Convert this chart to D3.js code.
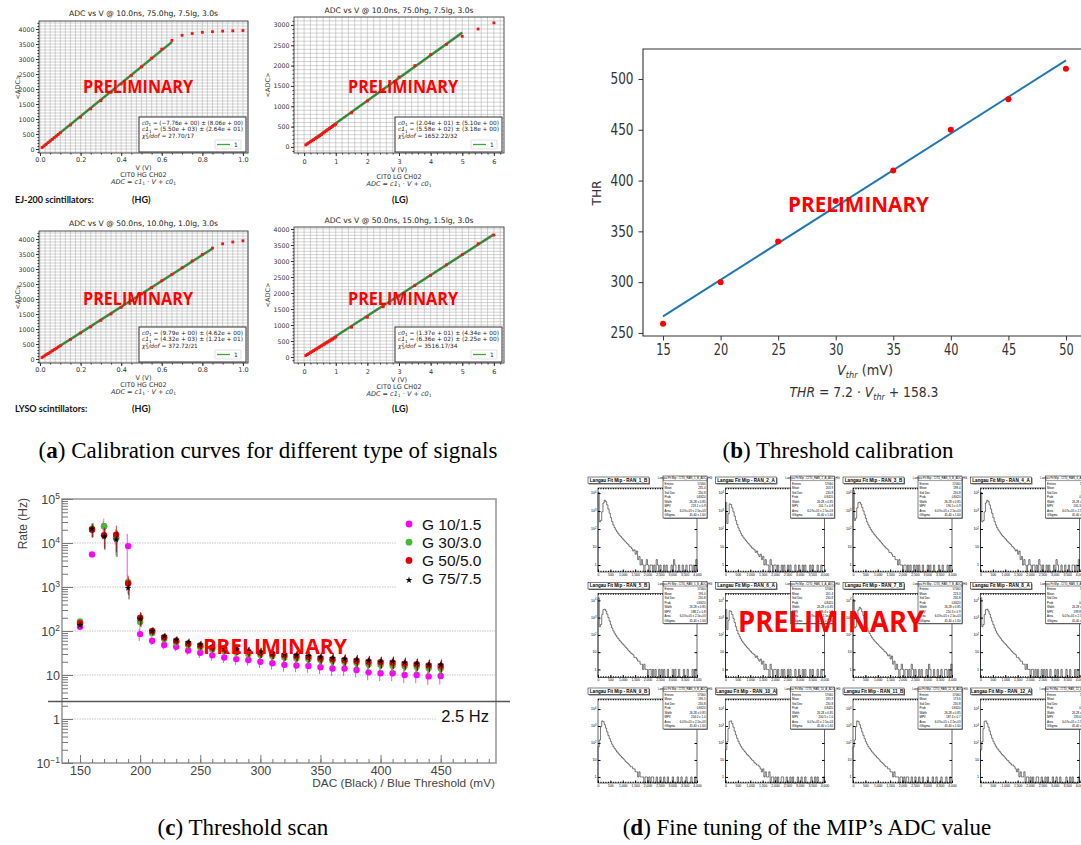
<!DOCTYPE html>
<html>
<head>
<meta charset="utf-8">
<script src="https://cdn.jsdelivr.net/npm/d3@7"></script>
<style>
  body { margin: 0; background: #fff; }
  svg { display: block; }
</style>
</head>
<body>
<div class="container"></div>
<script>
const WIDTH = 1081;
const HEIGHT = 845;

// (a) calibration curves
const hgV = [0.01, 0.02, 0.03, 0.04, 0.05, 0.06, 0.07, 0.08, 0.09, 0.10,
  0.15, 0.20, 0.25, 0.30, 0.35, 0.40, 0.45, 0.50, 0.55, 0.60, 0.65,
  0.70, 0.75, 0.80, 0.85, 0.90, 0.95, 1.00];
const ejHgAdc = [50, 100, 155, 210, 265, 320, 375, 430, 485, 540,
  800, 1060, 1340, 1610, 1890, 2170, 2450, 2740, 3030, 3330, 3620,
  3790, 3850, 3890, 3910, 3930, 3940, 3950];
const lysoHgAdc = [50, 95, 140, 180, 225, 270, 310, 355, 400, 440,
  650, 870, 1070, 1290, 1500, 1720, 1950, 2170, 2380, 2610, 2820,
  3040, 3270, 3490, 3700, 3840, 3900, 3940];
const lgV = [0.05, 0.10, 0.15, 0.20, 0.25, 0.30, 0.35, 0.40, 0.45, 0.50,
  0.55, 0.60, 0.65, 0.70, 0.75, 0.80, 0.85, 0.90, 0.95, 1.00,
  1.5, 2.0, 2.5, 3.0, 3.5, 4.0, 4.5, 5.0, 5.5, 6.0];
const ejLgAdc = [50, 75, 100, 125, 150, 175, 200, 225, 250, 275,
  305, 335, 365, 390, 420, 450, 475, 505, 530, 555,
  840, 1130, 1400, 1720, 2000, 2270, 2520, 2720, 2900, 3050];
const lysoLgAdc = [45, 75, 105, 135, 165, 195, 225, 255, 285, 315,
  345, 375, 405, 435, 465, 495, 525, 555, 585, 620,
  930, 1240, 1570, 1900, 2230, 2550, 2880, 3200, 3540, 3810];

const adcTitles = ['ADC vs V @ 10.0ns, 75.0hg, 7.5lg, 3.0s', 'ADC vs V @ 10.0ns, 75.0hg, 7.5lg, 3.0s',
  'ADC vs V @ 50.0ns, 10.0hg, 1.0lg, 3.0s', 'ADC vs V @ 50.0ns, 15.0hg, 1.5lg, 3.0s'];
const adcChannels = ['CIT0 HG CH02', 'CIT0 LG CH02', 'CIT0 HG CH02', 'CIT0 LG CH02'];
const fitC0 = [-7.76, 20.4, 9.79, 13.7];
const fitC1 = [5500, 558, 4320, 636];
const fitFrom = [0.01, 0.05, 0.01, 0.05];
const fitTo = [0.65, 5.0, 0.85, 6.0];
const fitC0Text = ['(\u22127.76e + 00) \u00b1 (8.06e + 00)', '(2.04e + 01) \u00b1 (5.10e + 00)',
  '(9.79e + 00) \u00b1 (4.62e + 00)', '(1.37e + 01) \u00b1 (4.34e + 00)'];
const fitC1Text = ['(5.50e + 03) \u00b1 (2.64e + 01)', '(5.58e + 02) \u00b1 (3.18e + 00)',
  '(4.32e + 03) \u00b1 (1.21e + 01)', '(6.36e + 02) \u00b1 (2.25e + 00)'];
const fitChiText = ['27.70/17', '1652.22/32', '372.72/21', '3516.17/34'];

// (b) threshold calibration
const thrV = [15, 20, 25, 30, 35, 40, 45, 50];
const thrVal = [259, 300, 340, 380, 410, 450, 480, 510];
const thrSlope = 7.2;
const thrOffset = 158.3;
const thrXTicks = [15, 20, 25, 30, 35, 40, 45, 50];
const thrYTicks = [250, 300, 350, 400, 450, 500];

// (c) threshold scan
const dacThr = [150, 160, 170, 180, 190, 200, 210, 220, 230, 240, 250, 260, 270, 280, 290, 300,
  310, 320, 330, 340, 350, 360, 370, 380, 390, 400, 410, 420, 430, 440, 450];
const rateG10 = [125, 5500, 24000, 13000, 8500, 85, 60, 48, 44, 36, 32, 28, 25, 23, 22, 20,
  18.5, 17, 16.5, 16, 15, 14, 14, 13, 11.5, 11, 11, 10, 10, 9.3, 9.5];
const rateG30 = [165, 21000, 24000, 13000, 1300, 160, 90, 66, 55, 48, 43, 38, 35, 33, 30, 29,
  27, 25, 24, 23, 22, 21, 20, 19, 17.5, 17, 16.5, 16, 15.5, 14.5, 14];
const rateG50 = [150, 20000, 15000, 15500, 1200, 200, 100, 72, 60, 52, 47, 42, 39, 37, 34, 32,
  30, 28, 27, 26, 24, 23, 22, 21, 20, 19.5, 19, 18, 17.5, 16.5, 16];
const rateG75 = [135, 21000, 14000, 12000, 950, 190, 100, 75, 63, 55, 49, 44, 40, 38, 35, 33,
  31, 29, 28, 27, 25, 24, 23, 22, 21, 20, 20, 19, 18, 17, 17];
const relErr = [0.15, 0.35, 0.5, 0.6, 0.45, 0.35, 0.2, 0.2, 0.2, 0.22, 0.22, 0.24, 0.24, 0.25, 0.25, 0.26,
  0.26, 0.27, 0.27, 0.28, 0.28, 0.29, 0.29, 0.3, 0.3, 0.3, 0.31, 0.31, 0.32, 0.32, 0.33];
const relErrG10 = [0.15, 0.1, 0.3, 0.3, 0.9, 0.3, 0.2, 0.2, 0.22, 0.22, 0.24, 0.25, 0.25, 0.26, 0.26, 0.28,
  0.28, 0.3, 0.3, 0.3, 0.3, 0.32, 0.32, 0.32, 0.34, 0.34, 0.34, 0.35, 0.35, 0.36, 0.36];
const rateLegend = ['G 10/1.5', 'G 30/3.0', 'G 50/5.0', 'G 75/7.5'];
const rateTickVals = [0.1, 1, 10, 100, 1000, 10000, 100000];
const rateTickExp = ['\u22121', '', '', '2', '3', '4', '5'];
const rateTickBase = ['10', '1', '10', '10', '10', '10', '10'];
const dacTicks = [150, 200, 250, 300, 350, 400, 450];
const rateLimit = 2.5;

// (d) MIP fine tuning histograms (50 ADC bins from 0 to 4000)
const histA = [11000, 250, 300, 900, 2800, 4000, 3300, 2200, 1300, 750,
  430, 260, 170, 120, 90, 70, 55, 45, 38, 32,
  27, 22, 19, 16, 14, 11, 10, 8, 6, 7,
  4, 6, 2, 3, 1, 2, 1, 0, 1, 2,
  1, 0, 1, 1, 0, 1, 0, 2, 1, 0,
  1, 0, 0, 1, 0, 1, 0, 0, 0, 1,
  0, 2, 1, 0, 0, 1, 0, 0, 1, 0,
  0, 1, 0, 0, 1, 1, 0, 1, 0, 2];
const histB = [3000, 200, 700, 2500, 2300, 1500, 900, 520, 300, 180,
  115, 80, 58, 44, 35, 28, 23, 19, 16, 13,
  11, 9, 8, 7, 5, 6, 4, 3, 4, 2,
  3, 1, 2, 1, 1, 0, 2, 1, 0, 1,
  1, 0, 1, 0, 0, 1, 0, 1, 0, 0,
  1, 0, 1, 0, 0, 0, 1, 0, 0, 1,
  0, 0, 1, 0, 1, 0, 0, 0, 1, 0,
  1, 0, 0, 0, 1, 0, 0, 1, 0, 0];
const histC = [14000, 300, 400, 1500, 2900, 3100, 2400, 1600, 1000, 620,
  390, 250, 170, 125, 95, 75, 60, 48, 40, 33,
  28, 23, 19, 16, 13, 11, 9, 8, 7, 5,
  5, 4, 3, 3, 2, 2, 1, 2, 1, 1,
  0, 1, 1, 0, 1, 0, 1, 0, 0, 1,
  0, 1, 0, 1, 0, 0, 1, 0, 0, 0,
  1, 0, 1, 0, 0, 1, 0, 0, 0, 1,
  0, 0, 1, 0, 0, 0, 1, 0, 1, 0];
const histD = [60, 150, 900, 2000, 1800, 1200, 750, 450, 280, 180,
  120, 85, 62, 48, 38, 30, 25, 20, 17, 14,
  12, 10, 8, 7, 6, 5, 4, 4, 3, 3,
  2, 2, 1, 2, 1, 1, 1, 0, 1, 1,
  0, 1, 0, 1, 1, 0, 0, 1, 0, 0,
  1, 0, 0, 1, 0, 0, 1, 0, 0, 0,
  1, 0, 0, 0, 1, 0, 0, 1, 0, 0,
  0, 1, 0, 0, 0, 1, 0, 0, 1, 0];
const histE = [40, 120, 700, 1900, 2000, 1400, 850, 500, 300, 190,
  125, 88, 64, 50, 40, 32, 26, 21, 18, 15,
  12, 10, 9, 7, 6, 5, 5, 4, 3, 2,
  3, 1, 2, 1, 1, 2, 0, 1, 1, 0,
  1, 0, 1, 0, 0, 1, 1, 0, 0, 1,
  0, 0, 1, 0, 1, 0, 0, 0, 1, 0,
  0, 1, 0, 0, 1, 0, 0, 0, 0, 1,
  0, 0, 1, 0, 1, 0, 0, 0, 0, 1];
const histOfPanel = [histA, histB, histC, histA, histC, histB, histA, histC, histD, histE, histD, histE];
const mipNames = ['RAN_1_B', 'RAN_2_A', 'RAN_3_B', 'RAN_4_A', 'RAN_5_B', 'RAN_6_A',
  'RAN_7_B', 'RAN_8_A', 'RAN_9_B', 'RAN_10_A', 'RAN_11_B', 'RAN_12_A'];
const statsNames = ['Entries', 'Mean', 'Std Dev', 'Prob', 'Width', 'MPV', 'Area', 'GSigma'];
const statsMean = ['235.4', '203.9', '198.4', '211.6', '196.0', '201.4', '223.3', '204.1', '196.5', '195.9', '173.6', '188.2'];
const statsMpv = ['219.1 \u00b1 0.9', '201.7 \u00b1 0.8', '190.5 \u00b1 0.9', '205.3 \u00b1 0.9', '188.2 \u00b1 0.8', '196.4 \u00b1 0.9',
  '210.3 \u00b1 0.9', '199.8 \u00b1 0.8', '204.0 \u00b1 1.0', '200.5 \u00b1 1.0', '187.4 \u00b1 0.7', '193.6 \u00b1 0.9'];
const mipXTicks = [0, 500, 1000, 1500, 2000, 2500, 3000, 3500, 4000];

var translate = function (x, y) {
  return 'translate(' + x + ',' + y + ')';
};

var svg = d3.select('.container').append('svg')
  .attr('width', WIDTH)
  .attr('height', HEIGHT);

svg.append('rect').attr('width', WIDTH).attr('height', HEIGHT).attr('fill', '#fff');

var prelim = function (x, y, size, len) {
  svg.append('text')
    .attr('x', x).attr('y', y)
    .attr('font-family', 'Open Sans, sans-serif')
    .attr('font-weight', 700)
    .attr('font-size', size)
    .attr('fill', '#ff0000')
    .attr('textLength', len)
    .attr('lengthAdjust', 'spacingAndGlyphs')
    .text('PRELIMINARY');
};

var styleAxis = function (g, size, color, family) {
  g.select('.domain').remove();
  g.selectAll('line').attr('stroke', color);
  g.selectAll('text').attr('fill', color).attr('font-size', size).attr('font-family', family);
  g.attr('font-size', null).attr('font-family', null);
};

// ---------- (a) ----------
var adcPlots = [
  {x0: 39, y0: 21, x1: 248, y1: 153, xd: [-0.005, 1.025], yd: [-133, 4267], v: hgV, adc: ejHgAdc, lg: false,
    yMax: 4000, titleY: 16, pad: 1.5, labY: 170},
  {x0: 294, y0: 17, x1: 504, y1: 153, xd: [-0.32, 6.32], yd: [-150, 3195], v: lgV, adc: ejLgAdc, lg: true,
    yMax: 3000, titleY: 13, pad: 3, labY: 172},
  {x0: 39, y0: 231, x1: 248, y1: 363, xd: [-0.005, 1.025], yd: [-133, 4267], v: hgV, adc: lysoHgAdc, lg: false,
    yMax: 4000, titleY: 226, pad: 1.5, labY: 380},
  {x0: 294, y0: 227, x1: 504, y1: 363, xd: [-0.32, 6.32], yd: [-188, 4062], v: lgV, adc: lysoLgAdc, lg: true,
    yMax: 4000, titleY: 223, pad: 3, labY: 382}
];

var FONT_A = 'DejaVu Sans, sans-serif';

var drawAdcPlot = function (p, i) {
  var g = svg.append('g');
  var x = d3.scaleLinear().domain(p.xd).range([p.x0, p.x1]);
  var y = d3.scaleLinear().domain(p.yd).range([p.y1, p.y0]);

  var xMinor = p.lg ? d3.range(-0.2, 6.31, 0.2) : d3.range(0, 1.0251, 0.025);
  var yMinor = d3.range(-100, p.yd[1], 100);

  g.append('g').selectAll('line').data(xMinor).enter().append('line')
    .attr('x1', function (d) { return x(d); }).attr('x2', function (d) { return x(d); })
    .attr('y1', p.y0).attr('y2', p.y1)
    .attr('stroke', '#b4b4b4').attr('stroke-width', 0.6);
  g.append('g').selectAll('line').data(yMinor).enter().append('line')
    .attr('x1', p.x0).attr('x2', p.x1)
    .attr('y1', function (d) { return y(d); }).attr('y2', function (d) { return y(d); })
    .attr('stroke', '#b4b4b4').attr('stroke-width', 0.6);

  g.append('rect')
    .attr('x', p.x0).attr('y', p.y0)
    .attr('width', p.x1 - p.x0).attr('height', p.y1 - p.y0)
    .attr('fill', 'none').attr('stroke', '#3a3a3a').attr('stroke-width', 0.9);

  var xTicks = p.lg ? [0, 1, 2, 3, 4, 5, 6] : [0, 0.2, 0.4, 0.6, 0.8, 1.0];
  var xAxis = d3.axisBottom(x).tickValues(xTicks)
    .tickFormat(p.lg ? d3.format('d') : d3.format('.1f'))
    .tickSize(3).tickPadding(p.pad);
  styleAxis(g.append('g').attr('transform', translate(0, p.y1)).call(xAxis), 6.5, '#333', FONT_A);
  var xMinorAxis = d3.axisBottom(x).tickValues(p.lg ? d3.range(-0.2, 6.3, 0.2) : d3.range(0, 1.01, 0.05))
    .tickFormat('').tickSize(1.5);
  styleAxis(g.append('g').attr('transform', translate(0, p.y1)).call(xMinorAxis), 6.5, '#333', FONT_A);

  var yAxis = d3.axisLeft(y).tickValues(d3.range(0, p.yMax + 1, 500))
    .tickFormat(d3.format('d')).tickSize(3).tickPadding(1.5);
  styleAxis(g.append('g').attr('transform', translate(p.x0, 0)).call(yAxis), 6.3, '#333', FONT_A);
  var yMinorAxis = d3.axisLeft(y).tickValues(d3.range(-100, p.yd[1], 100)).tickFormat('').tickSize(1.5);
  styleAxis(g.append('g').attr('transform', translate(p.x0, 0)).call(yMinorAxis), 6.5, '#333', FONT_A);

  // fit line
  var line = d3.line()
    .x(function (d) { return x(d); })
    .y(function (d) { return y(fitC1[i] * d + fitC0[i]); });
  g.append('path').attr('d', line([fitFrom[i], fitTo[i]]))
    .attr('stroke', '#6d8f6d').attr('stroke-width', 2.6).attr('fill', 'none');
  g.append('path').attr('d', line([fitFrom[i], fitTo[i]]))
    .attr('stroke', '#2a8c2a').attr('stroke-width', 1.5).attr('fill', 'none');

  // measured points
  g.append('g').selectAll('rect').data(p.v).enter().append('rect')
    .attr('x', function (d) { return x(d) - 1.4; })
    .attr('y', function (d, k) { return y(p.adc[k]) - 1.4; })
    .attr('width', 2.8).attr('height', 2.8)
    .attr('fill', '#ff1010');

  // title
  svg.append('text').attr('x', (p.x0 + p.x1) / 2).attr('y', p.titleY)
    .attr('text-anchor', 'middle').attr('font-family', FONT_A).attr('font-size', 7.6)
    .attr('fill', '#222').text(adcTitles[i]);

  var ax = p.x0 - (p.lg ? 24 : 19);
  var ay = (p.y0 + p.y1) / 2;
  svg.append('text').attr('x', ax).attr('y', ay)
    .attr('transform', 'rotate(-90,' + ax + ',' + ay + ')')
    .attr('text-anchor', 'middle').attr('font-family', FONT_A).attr('font-size', 6.5)
    .attr('fill', '#333').text('<ADC>');

  // fit box
  var bx1 = p.x1 - 2, by1 = p.y1 - 1, bx0 = bx1 - 107, by0 = by1 - 35;
  var box = svg.append('g');
  box.append('rect').attr('x', bx0).attr('y', by0).attr('width', bx1 - bx0).attr('height', by1 - by0)
    .attr('fill', '#fff').attr('stroke', '#333').attr('stroke-width', 1);
  var rows = [['c0', fitC0Text[i]], ['c1', fitC1Text[i]]];
  rows.forEach(function (r, k) {
    var t = box.append('text').attr('x', bx0 + 3).attr('y', by0 + 8 + k * 6.4)
      .attr('font-family', FONT_A).attr('font-size', 5.8).attr('fill', '#222')
      .attr('textLength', 101).attr('lengthAdjust', 'spacingAndGlyphs');
    t.append('tspan').attr('font-style', 'italic').text(r[0]);
    t.append('tspan').attr('font-size', 4.2).attr('dy', 1.2).text('1');
    t.append('tspan').attr('dy', -1.2).text(' = ' + r[1]);
  });
  var chi = box.append('text').attr('x', bx0 + 3).attr('y', by0 + 20.8)
    .attr('font-family', FONT_A).attr('font-size', 5.8).attr('fill', '#222');
  chi.append('tspan').attr('font-style', 'italic').text('\u03c7');
  chi.append('tspan').attr('font-size', 4.2).attr('dy', -2).text('2');
  chi.append('tspan').attr('font-size', 4.2).attr('dx', -2.4).attr('dy', 3.2).text('1');
  chi.append('tspan').attr('dy', -1.2).attr('font-style', 'italic').text('/dof');
  chi.append('tspan').text(' = ' + fitChiText[i]);
  box.append('rect').attr('x', bx1 - 31).attr('y', by1 - 12).attr('width', 26).attr('height', 9)
    .attr('fill', '#fff').attr('stroke', '#ccc').attr('stroke-width', 0.6).attr('rx', 1);
  box.append('line').attr('x1', bx1 - 29).attr('x2', bx1 - 16).attr('y1', by1 - 7.5).attr('y2', by1 - 7.5)
    .attr('stroke', '#3aa83a').attr('stroke-width', 1.3);
  box.append('text').attr('x', bx1 - 12).attr('y', by1 - 5.2)
    .attr('font-family', FONT_A).attr('font-size', 6).attr('fill', '#222').text('1');

  // axis labels
  var cx = (p.x0 + p.x1) / 2;
  svg.append('text').attr('x', cx).attr('y', p.labY).attr('text-anchor', 'middle')
    .attr('font-family', FONT_A).attr('font-size', 6.5).attr('fill', '#333').text('V (V)');
  svg.append('text').attr('x', cx).attr('y', p.labY + 7).attr('text-anchor', 'middle')
    .attr('font-family', FONT_A).attr('font-size', 6.5).attr('fill', '#333').text(adcChannels[i]);
  var f = svg.append('text').attr('x', cx).attr('y', p.labY + 14).attr('text-anchor', 'middle')
    .attr('font-family', FONT_A).attr('font-size', 6.5).attr('fill', '#333');
  f.append('tspan').attr('font-style', 'italic').text('ADC');
  f.append('tspan').text(' = ');
  f.append('tspan').attr('font-style', 'italic').text('c1');
  f.append('tspan').attr('font-size', 4.5).attr('dy', 1.2).text('1');
  f.append('tspan').attr('dy', -1.2).text(' \u00b7 ');
  f.append('tspan').attr('font-style', 'italic').text('V');
  f.append('tspan').text(' + ');
  f.append('tspan').attr('font-style', 'italic').text('c0');
  f.append('tspan').attr('font-size', 4.5).attr('dy', 1.2).text('1');
};

adcPlots.forEach(drawAdcPlot);

var boldLabel = function (x, y, txt, anchor) {
  svg.append('text').attr('x', x).attr('y', y).attr('text-anchor', anchor || 'start')
    .attr('font-family', 'Lato, sans-serif').attr('font-weight', 700).attr('font-size', 9)
    .attr('fill', '#111').text(txt);
};
boldLabel(15, 203, 'EJ-200 scintillators:');
boldLabel(132, 203, '(HG)');
boldLabel(400, 203, '(LG)', 'middle');
boldLabel(15, 412, 'LYSO scintillators:');
boldLabel(132, 412, '(HG)');
boldLabel(400, 412, '(LG)', 'middle');

prelim(83, 93, 18, 110);
prelim(348, 93, 18, 110);
prelim(83, 305, 18, 110);
prelim(348, 305, 18, 110);

// ---------- (b) ----------
(function () {
  var x0 = 643, x1 = 1083, y0 = 49, y1 = 336;
  var x = d3.scaleLinear().domain([13.26, 51.48]).range([x0, x1]);
  var y = d3.scaleLinear().domain([247, 529.5]).range([y1, y0]);
  var g = svg.append('g');

  var line = d3.line()
    .x(function (d) { return x(d); })
    .y(function (d) { return y(thrSlope * d + thrOffset); });
  g.append('path').attr('d', line([thrV[0], thrV[thrV.length - 1]]))
    .attr('stroke', '#1f77b4').attr('stroke-width', 2).attr('fill', 'none');

  g.append('g').selectAll('circle').data(thrV).enter().append('circle')
    .attr('cx', function (d) { return x(d); })
    .attr('cy', function (d, k) { return y(thrVal[k]); })
    .attr('r', 3).attr('fill', '#ff0000');

  g.append('path').attr('d', 'M' + x1 + ',' + y0 + 'H' + x0 + 'V' + y1 + 'H' + x1)
    .attr('fill', 'none').attr('stroke', '#333').attr('stroke-width', 1.1);

  var xAxis = d3.axisBottom(x).tickValues(thrXTicks).tickSize(4.5).tickPadding(4);
  var xg = g.append('g').attr('transform', translate(0, y1)).call(xAxis);
  styleAxis(xg, 15, '#333', FONT_A);
  xg.selectAll('text').attr('textLength', 14.5).attr('lengthAdjust', 'spacingAndGlyphs');

  var yAxis = d3.axisLeft(y).tickValues(thrYTicks).tickSize(4.5).tickPadding(5);
  var yg = g.append('g').attr('transform', translate(x0, 0)).call(yAxis);
  styleAxis(yg, 15, '#333', FONT_A);
  yg.selectAll('text').attr('textLength', 23).attr('lengthAdjust', 'spacingAndGlyphs');

  svg.append('text').attr('x', 601).attr('y', 193)
    .attr('transform', 'rotate(-90,601,193)').attr('text-anchor', 'middle')
    .attr('font-family', FONT_A).attr('font-size', 13).attr('fill', '#333')
    .attr('textLength', 25).attr('lengthAdjust', 'spacingAndGlyphs').text('THR');

  var xl = svg.append('text').attr('x', 865).attr('y', 375).attr('text-anchor', 'middle')
    .attr('font-family', FONT_A).attr('font-size', 14).attr('fill', '#333')
    .attr('textLength', 56).attr('lengthAdjust', 'spacingAndGlyphs');
  xl.append('tspan').attr('font-style', 'italic').text('V');
  xl.append('tspan').attr('font-style', 'italic').attr('font-size', 9).attr('dy', 3).text('thr');
  xl.append('tspan').attr('dy', -3).text(' (mV)');

  var fl = svg.append('text').attr('x', 864).attr('y', 397).attr('text-anchor', 'middle')
    .attr('font-family', FONT_A).attr('font-size', 14).attr('fill', '#333')
    .attr('textLength', 149).attr('lengthAdjust', 'spacingAndGlyphs');
  fl.append('tspan').attr('font-style', 'italic').text('THR');
  fl.append('tspan').text(' = ' + thrSlope + ' \u00b7 ');
  fl.append('tspan').attr('font-style', 'italic').text('V');
  fl.append('tspan').attr('font-style', 'italic').attr('font-size', 9).attr('dy', 3).text('thr');
  fl.append('tspan').attr('dy', -3).text(' + ' + thrOffset);
})();

prelim(788, 212, 21, 141);

// ---------- (c) ----------
(function () {
  var FONT_C = 'Liberation Sans, Arial, sans-serif';
  var x0 = 62, x1 = 496, y0 = 499, y1 = 763;
  var x = d3.scaleLinear().domain([135, 496]).range([x0, x1]);
  var y = d3.scaleLog().domain([0.1, 1e5]).range([y1, y0]);
  var g = svg.append('g');

  // grid at decades
  g.append('g').selectAll('line').data([1, 10, 100, 1000, 10000]).enter().append('line')
    .attr('x1', x0).attr('x2', x1)
    .attr('y1', function (d) { return y(d); }).attr('y2', function (d) { return y(d); })
    .attr('stroke', '#b8b8b8').attr('stroke-width', 0.8).attr('stroke-dasharray', '1.5,1');

  // legend and label backgrounds hide the grid
  g.append('rect').attr('x', 397).attr('y', 510).attr('width', 98).attr('height', 82).attr('fill', '#fff');
  g.append('rect').attr('x', 437).attr('y', 704).attr('width', 58).attr('height', 22).attr('fill', '#fff');

  var series = [
    {vals: rateG10, err: relErrG10, color: '#ff00ff', star: false},
    {vals: rateG30, err: relErr, color: '#44bb33', star: false},
    {vals: rateG50, err: relErr, color: '#e00000', star: false},
    {vals: rateG75, err: relErr, color: '#000', star: true}
  ];
  var star = d3.symbol().type(d3.symbolStar).size(14);
  series.forEach(function (s, si) {
    var sg = g.append('g');
    var off = (si - 1.5) * 0.6;
    sg.selectAll('line').data(dacThr).enter().append('line')
      .attr('x1', function (d) { return x(d) + off; }).attr('x2', function (d) { return x(d) + off; })
      .attr('y1', function (d, k) { return y(s.vals[k] * (1 + s.err[k])); })
      .attr('y2', function (d, k) { return y(s.vals[k] * (1 - s.err[k])); })
      .attr('stroke', s.color).attr('stroke-width', 0.9).attr('opacity', 0.8);
    if (s.star) {
      sg.selectAll('path').data(dacThr).enter().append('path')
        .attr('d', star)
        .attr('transform', function (d, k) { return translate(x(d), y(s.vals[k])); })
        .attr('fill', '#000');
    } else {
      sg.selectAll('circle').data(dacThr).enter().append('circle')
        .attr('cx', function (d) { return x(d); })
        .attr('cy', function (d, k) { return y(s.vals[k]); })
        .attr('r', 3.2).attr('fill', s.color);
    }
  });

  // frame
  g.append('rect').attr('x', x0).attr('y', y0).attr('width', x1 - x0).attr('height', y1 - y0)
    .attr('fill', 'none').attr('stroke', '#9c9c9c').attr('stroke-width', 1.6);

  // axes with ticks inside the frame
  var xAxis = d3.axisBottom(x).tickValues(dacTicks).tickSize(-8).tickPadding(3).tickFormat(d3.format('d'));
  var xg = g.append('g').attr('transform', translate(0, y1)).call(xAxis);
  styleAxis(xg, 12.5, '#444', FONT_C);
  xg.selectAll('line').attr('stroke', '#777');
  var xMinor = d3.axisBottom(x).tickValues(d3.range(140, 495, 10)).tickSize(-4).tickFormat('');
  styleAxis(g.append('g').attr('transform', translate(0, y1)).call(xMinor), 12, '#777', FONT_C);

  var yAxis = d3.axisLeft(y).tickValues(rateTickVals).tickSize(-11).tickFormat('');
  styleAxis(g.append('g').attr('transform', translate(x0, 0)).call(yAxis), 12, '#777', FONT_C);
  var minorVals = [];
  [0.1, 1, 10, 100, 1000, 10000].forEach(function (dec) {
    [2, 3, 4, 5, 6, 7, 8, 9].forEach(function (m) { minorVals.push(dec * m); });
  });
  var yMinor = d3.axisLeft(y).tickValues(minorVals).tickSize(-6).tickFormat('');
  styleAxis(g.append('g').attr('transform', translate(x0, 0)).call(yMinor), 12, '#777', FONT_C);

  var labs = g.append('g').selectAll('text').data(rateTickVals).enter().append('text')
    .attr('x', 60).attr('y', function (d) { return y(d) + 4.5; })
    .attr('text-anchor', 'end').attr('font-family', FONT_C).attr('font-size', 12.5).attr('fill', '#444');
  labs.append('tspan').text(function (d, k) { return rateTickBase[k]; });
  labs.append('tspan').attr('font-size', 8.5).attr('dy', -5)
    .text(function (d, k) { return rateTickExp[k]; });

  svg.append('text').attr('x', 27).attr('y', 498)
    .attr('transform', 'rotate(-90,27,498)').attr('text-anchor', 'end')
    .attr('font-family', FONT_C).attr('font-size', 12).attr('fill', '#444').text('Rate (Hz)');
  svg.append('text').attr('x', 495).attr('y', 787).attr('text-anchor', 'end')
    .attr('font-family', FONT_C).attr('font-size', 11.8).attr('fill', '#444')
    .text('DAC (Black) / Blue Threshold (mV)');

  // 2.5 Hz limit
  var yl = y(rateLimit);
  g.append('line').attr('x1', 48).attr('x2', 510).attr('y1', yl).attr('y2', yl)
    .attr('stroke', '#555').attr('stroke-width', 1.4);
  svg.append('text').attr('x', 489).attr('y', 722).attr('text-anchor', 'end')
    .attr('font-family', FONT_C).attr('font-size', 16.5).attr('fill', '#111').text(rateLimit + ' Hz');

  // legend
  var lg = svg.append('g');
  rateLegend.forEach(function (name, k) {
    var ly = 524 + k * 18.2;
    var s = series[k];
    if (s.star) {
      lg.append('path').attr('d', star).attr('transform', translate(409, ly + 1.5)).attr('fill', '#000');
    } else {
      lg.append('circle').attr('cx', 409).attr('cy', ly).attr('r', 3.4).attr('fill', s.color);
    }
    lg.append('text').attr('x', 422).attr('y', ly + 5.5)
      .attr('font-family', FONT_C).attr('font-size', 15.5).attr('fill', '#111').text(name);
  });
})();

prelim(203, 654, 22, 144);

// ---------- (d) ----------
(function () {
  var FONT_D = 'Liberation Sans, Arial, sans-serif';
  var rowTop = [19000, 25000, 39000];
  var rowBottom = [0.41, 0.34, 0.44];
  mipNames.forEach(function (name, i) {
    var col = i % 4, row = Math.floor(i / 4);
    var cx = 588 + col * 127.5, cy = 477 + row * 105.5;
    var fx0 = cx + 10, fx1 = cx + 109, fy0 = cy + 11, fy1 = cy + 95;
    var x = d3.scaleLinear().domain([0, 4000]).range([fx0, fx1]);
    var y = d3.scaleLog().domain([rowBottom[row], rowTop[row]]).range([fy1, fy0]);
    var g = svg.append('g');
    var hist = histOfPanel[i];

    var pts = [[fx0, fy1]];
    hist.forEach(function (c, k) {
      var yy = c > 0 ? y(c) : fy1;
      pts.push([x(k * 50), yy]);
      pts.push([x((k + 1) * 50), yy]);
    });
    pts.push([fx1, fy1]);
    g.append('path').attr('d', d3.line()(pts))
      .attr('fill', 'none').attr('stroke', '#222').attr('stroke-width', 0.6);

    g.append('rect').attr('x', fx0).attr('y', fy0).attr('width', fx1 - fx0).attr('height', fy1 - fy0)
      .attr('fill', 'none').attr('stroke', '#000').attr('stroke-width', 0.6);

    var xa = d3.axisBottom(x).tickValues(mipXTicks).tickSize(-2.5).tickPadding(1.2);
    styleAxis(g.append('g').attr('transform', translate(0, fy1)).call(xa), 3.4, '#000', FONT_D);
    var xm = d3.axisBottom(x).tickValues(d3.range(0, 4001, 100)).tickSize(-1.3).tickFormat('');
    styleAxis(g.append('g').attr('transform', translate(0, fy1)).call(xm), 3.4, '#000', FONT_D);
    styleAxis(g.append('g').attr('transform', translate(0, fy0)).call(
      d3.axisTop(x).tickValues(d3.range(0, 4001, 100)).tickSize(-1.3).tickFormat('')), 3.4, '#000', FONT_D);

    var decades = [1, 10, 100, 1000, 10000];
    styleAxis(g.append('g').attr('transform', translate(fx0, 0)).call(
      d3.axisLeft(y).tickValues(decades).tickSize(-2.5).tickFormat('')), 3.4, '#000', FONT_D);
    styleAxis(g.append('g').attr('transform', translate(fx1, 0)).call(
      d3.axisRight(y).tickValues(decades).tickSize(-2.5).tickFormat('')), 3.4, '#000', FONT_D);
    var ylab = g.append('g').selectAll('text').data(decades).enter().append('text')
      .attr('x', fx0 - 1.5).attr('y', function (d) { return y(d) + 1.3; })
      .attr('text-anchor', 'end').attr('font-family', FONT_D).attr('font-size', 3.6).attr('fill', '#000');
    ylab.append('tspan').text(function (d) { return d === 1 ? '1' : '10'; });
    ylab.append('tspan').attr('font-size', 2.6).attr('dy', -1.4)
      .text(function (d) { return d >= 100 ? String(Math.round(Math.log10(d))) : ''; });

    // title box
    g.append('rect').attr('x', cx + 1).attr('y', cy + 1).attr('width', 61).attr('height', 6.5).attr('fill', '#777');
    g.append('rect').attr('x', cx).attr('y', cy).attr('width', 61).attr('height', 6.5)
      .attr('fill', '#fff').attr('stroke', '#000').attr('stroke-width', 0.5);
    g.append('text').attr('x', cx + 30.5).attr('y', cy + 4.9).attr('text-anchor', 'middle')
      .attr('font-family', FONT_D).attr('font-weight', 700).attr('font-size', 4.6).attr('fill', '#000')
      .text('Langau Fit Mip - ' + name);

    // stats box
    var sx = cx + 75, sy = cy - 1;
    g.append('rect').attr('x', sx + 0.8).attr('y', sy + 0.8).attr('width', 44).attr('height', 42).attr('fill', '#777');
    g.append('rect').attr('x', sx).attr('y', sy).attr('width', 44).attr('height', 42)
      .attr('fill', '#fff').attr('stroke', '#000').attr('stroke-width', 0.5);
    g.append('text').attr('x', sx + 22).attr('y', sy + 3.4).attr('text-anchor', 'middle')
      .attr('font-family', FONT_D).attr('font-size', 2.8).attr('fill', '#000')
      .text('Langau Fit Mip - CIT0_' + name + '_ADC_HG');
    g.append('line').attr('x1', sx).attr('x2', sx + 44).attr('y1', sy + 4.6).attr('y2', sy + 4.6)
      .attr('stroke', '#000').attr('stroke-width', 0.4);
    var vals = ['57060', statsMean[i], '230.8', '0.8420', '26.28 \u00b1 0.85', statsMpv[i],
      '6.07e+05 \u00b1 2.5e+03', '45.40 \u00b1 1.60'];
    statsNames.forEach(function (n, k) {
      var ty = sy + 8.6 + k * 4.5;
      g.append('text').attr('x', sx + 1.5).attr('y', ty)
        .attr('font-family', FONT_D).attr('font-size', 2.9).attr('fill', '#000').text(n);
      g.append('text').attr('x', sx + 42.5).attr('y', ty).attr('text-anchor', 'end')
        .attr('font-family', FONT_D).attr('font-size', 2.9).attr('fill', '#000').text(vals[k]);
    });
  });
})();

prelim(738, 632, 28, 186);

// ---------- captions ----------
var caption = function (x, y, letter, rest) {
  var t = svg.append('text').attr('x', x).attr('y', y).attr('text-anchor', 'middle')
    .attr('font-family', 'Liberation Serif, Times New Roman, serif').attr('font-size', 23).attr('fill', '#000');
  t.append('tspan').text('(');
  t.append('tspan').attr('font-weight', 700).text(letter);
  t.append('tspan').text(') ' + rest);
};
caption(268, 458, 'a', 'Calibration curves for different type of signals');
caption(838, 458, 'b', 'Threshold calibration');
caption(243, 835, 'c', 'Threshold scan');
caption(807, 835, 'd', 'Fine tuning of the MIP\u2019s ADC value');
</script>
</body>
</html>
